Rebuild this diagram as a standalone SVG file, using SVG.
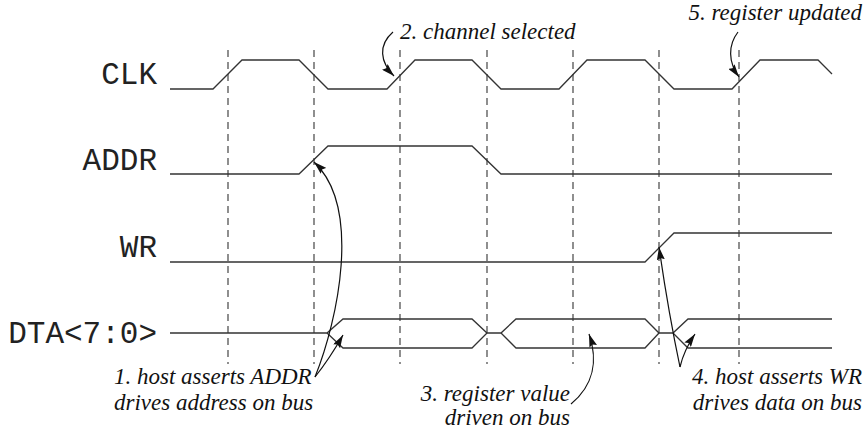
<svg xmlns="http://www.w3.org/2000/svg" width="864" height="429" viewBox="0 0 864 429">
<defs>
<style>
.wave{fill:none;stroke:#333;stroke-width:1.3;stroke-linejoin:miter}
.grid{stroke:#333;stroke-width:1.1;stroke-dasharray:7,5}
.sig{font-family:"Liberation Mono","Courier New",monospace;font-size:31px;fill:#222;text-anchor:end}
.note{font-family:"Liberation Serif","Times New Roman",serif;font-style:italic;font-size:23px;fill:#111}
.arr{fill:none;stroke:#111;stroke-width:1.2;marker-end:url(#ah)}
</style>
<marker id="ah" markerUnits="userSpaceOnUse" markerWidth="14" markerHeight="8" refX="13" refY="4" orient="auto">
<path d="M0,0 L13,4 L0,8 L2,4 z" fill="#111"/>
</marker>
</defs>
<rect width="864" height="429" fill="#fff"/>
<g id="gridlines">
<line class="grid" x1="228" y1="50" x2="228" y2="364"/>
<line class="grid" x1="314" y1="50" x2="314" y2="364"/>
<line class="grid" x1="400" y1="50" x2="400" y2="364"/>
<line class="grid" x1="487" y1="50" x2="487" y2="364"/>
<line class="grid" x1="573" y1="50" x2="573" y2="364"/>
<line class="grid" x1="659" y1="50" x2="659" y2="364"/>
<line class="grid" x1="739" y1="50" x2="739" y2="364"/>
</g>
<g id="clk">
<text class="sig" x="157" y="84">CLK</text>
<polyline class="wave" points="170,89 213,89 242,60 299,60 328,89 387,89 415,60 472,60 501,89 559,89 587,60 645,60 674,89 732,89 760,60 818,60 832,74"/>
</g>
<g id="addr">
<text class="sig" x="157" y="170">ADDR</text>
<polyline class="wave" points="170,174 299,174 328,146 472,146 501,174 832,174"/>
</g>
<g id="wr">
<text class="sig" x="157" y="257">WR</text>
<polyline class="wave" points="170,262 645,262 674,233 832,233"/>
</g>
<g id="dta">
<text class="sig" x="157" y="343">DTA&lt;7:0&gt;</text>
<polyline class="wave" points="170,333 327,333 343,319 472,319 487,333 501,333 516,319 645,319 659,333 673,333 688,319 832,319"/>
<polyline class="wave" points="327,333 343,348 472,348 487,333"/>
<polyline class="wave" points="501,333 516,348 645,348 659,333"/>
<polyline class="wave" points="673,333 688,348 832,348"/>
</g>
<g id="note1">
<text class="note" x="114" y="384">1. host asserts ADDR</text>
<text class="note" x="114" y="410">drives address on bus</text>
</g>
<g id="note2">
<text class="note" x="400" y="39">2. channel selected</text>
</g>
<g id="note3">
<text class="note" x="570" y="401" text-anchor="end">3. register value</text>
<text class="note" x="570" y="425" text-anchor="end">driven on bus</text>
</g>
<g id="note4">
<text class="note" x="862" y="384" text-anchor="end">4. host asserts WR</text>
<text class="note" x="862" y="410" text-anchor="end">drives data on bus</text>
</g>
<g id="note5">
<text class="note" x="862" y="20" text-anchor="end">5. register updated</text>
</g>
<g id="connectors">
<path class="arr" d="M315,377 C338,320 362,207 314,162"/>
<path class="arr" d="M315,377 Q330,358 343,335"/>
<path class="arr" d="M393,32 C378,45 380,62 394,76"/>
<path class="arr" d="M571,404 C594,385 598,360 589,334"/>
<path class="arr" d="M680,367 Q668,310 659,247"/>
<path class="arr" d="M680,367 Q684,350 695,334"/>
<path class="arr" d="M738,32 C728,45 728,62 739,77"/>
</g>
</svg>
